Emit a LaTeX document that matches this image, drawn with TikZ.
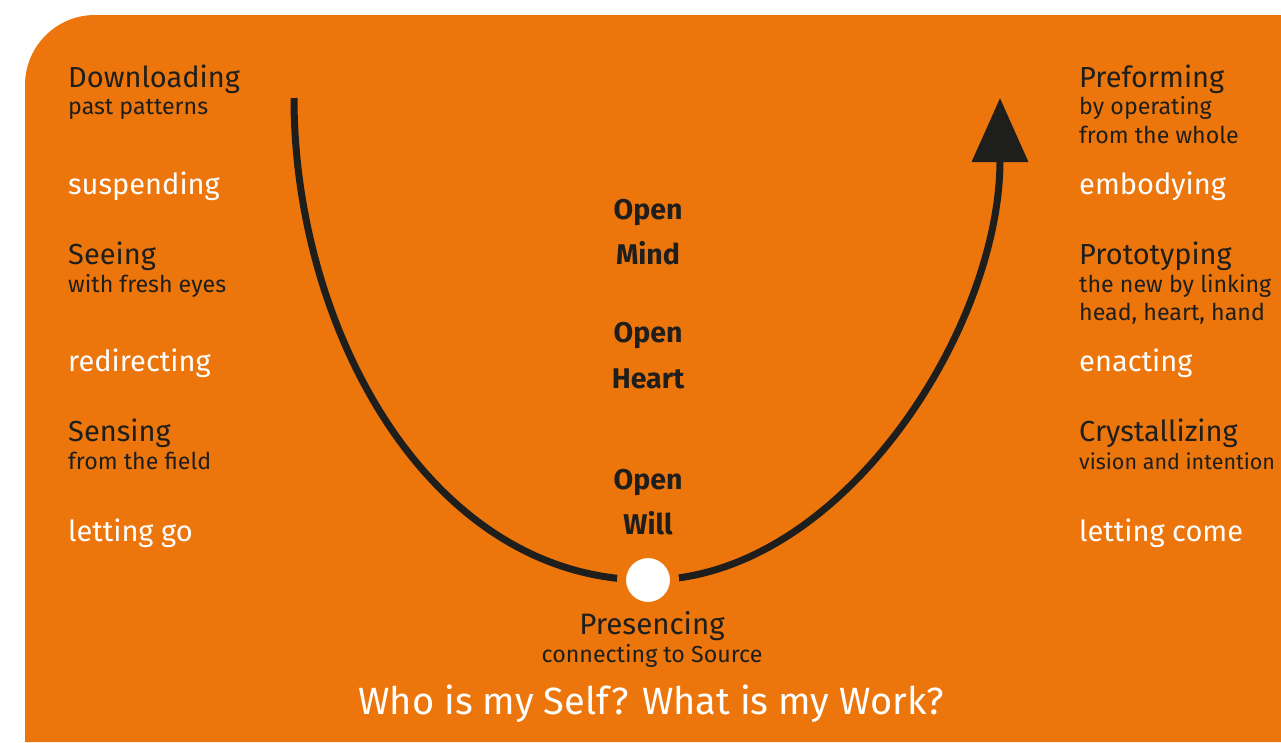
\documentclass[tikz,border=0pt]{standalone}
\usepackage{fontspec}
\setmainfont{Fira Sans}
\usetikzlibrary{arrows.meta}
\definecolor{uorange}{RGB}{236,118,11}
\definecolor{uline}{RGB}{30,30,28}
\tikzset{
  big/.style={anchor=base west,inner sep=0pt,font=\fontsize{29}{33}\selectfont},
  small/.style={anchor=base west,inner sep=0pt,font=\fontsize{23.2}{27}\selectfont},
  dark/.style={text=uline},
  light/.style={text=white},
  open/.style={anchor=base,inner sep=0pt,font=\fontsize{28.5}{32}\selectfont\bfseries,text=uline},
  ucurve/.style={draw=uline,line width=7pt},
}
\begin{document}
\begin{tikzpicture}[x=1pt,y=-1pt]
\useasboundingbox (0,0) rectangle (1281,742);
\fill[uorange] (25,742) -- (25,85) arc[start angle=180,end angle=270,radius=70] -- (1281,15) -- (1281,742) -- cycle;
% left column
\node[big,dark]   (dl) at (68,87)  {Downloading};
\node[small,dark] (dl2) at (68,114) {past patterns};
\node[big,light]  (su) at (68,194) {suspending};
\node[big,dark]   (se) at (68,264) {Seeing};
\node[small,dark] (se2) at (68,292) {with fresh eyes};
\node[big,light]  (re) at (68,371) {redirecting};
\node[big,dark]   (sn) at (68,441) {Sensing};
\node[small,dark] (sn2) at (68,469) {from the field};
\node[big,light]  (lg) at (68,541) {letting go};
% right column
\node[big,dark]   (pf) at (1079,87)  {Preforming};
\node[small,dark] (pf2) at (1079,114) {by operating};
\node[small,dark] (pf3) at (1079,143) {from the whole};
\node[big,light]  (em) at (1079,194) {embodying};
\node[big,dark]   (pt) at (1079,264) {Prototyping};
\node[small,dark] (pt2) at (1079,292) {the new by linking};
\node[small,dark] (pt3) at (1079,320) {head, heart, hand};
\node[big,light]  (en) at (1079,371) {enacting};
\node[big,dark]   (cr) at (1079,441) {Crystallizing};
\node[small,dark,font=\fontsize{21.5}{25}\selectfont] (cr2) at (1079,469) {vision and intention};
\node[big,light]  (lc) at (1079,541) {letting come};
% center
\node[open] (o1) at (648,219) {Open};
\node[open] (m1) at (648,264) {Mind};
\node[open] (o2) at (648,342) {Open};
\node[open] (h1) at (648,388) {Heart};
\node[open] (o3) at (648,489) {Open};
\node[open] (w1) at (648,534) {Will};
% curve
\coordinate (ctop) at (294,98);
\coordinate (atip) at (1000,98);
\coordinate (cbot) at (648,580);
\draw[ucurve] (ctop) .. controls (294,330) and (430,580) .. (cbot);
\draw[ucurve,-{Triangle[length=64pt,width=55pt]}] (cbot) .. controls (840,580) and (1000,330) .. (atip);
\node[circle,fill=white,draw=uorange,line width=9pt,minimum size=53pt,inner sep=0pt] (pc) at (cbot) {};
\node[anchor=base,inner sep=0pt,font=\fontsize{29.5}{33}\selectfont,text=uline] (pr) at (652,634) {Presencing};
\node[anchor=base,inner sep=0pt,font=\fontsize{23.2}{27}\selectfont,text=uline] (pr2) at (652,662) {connecting to Source};
\node[anchor=base,inner sep=0pt,font=\fontsize{38}{42}\selectfont,text=white] (q) at (651,714) {Who is my Self? What is my Work?};
\end{tikzpicture}
\end{document}
